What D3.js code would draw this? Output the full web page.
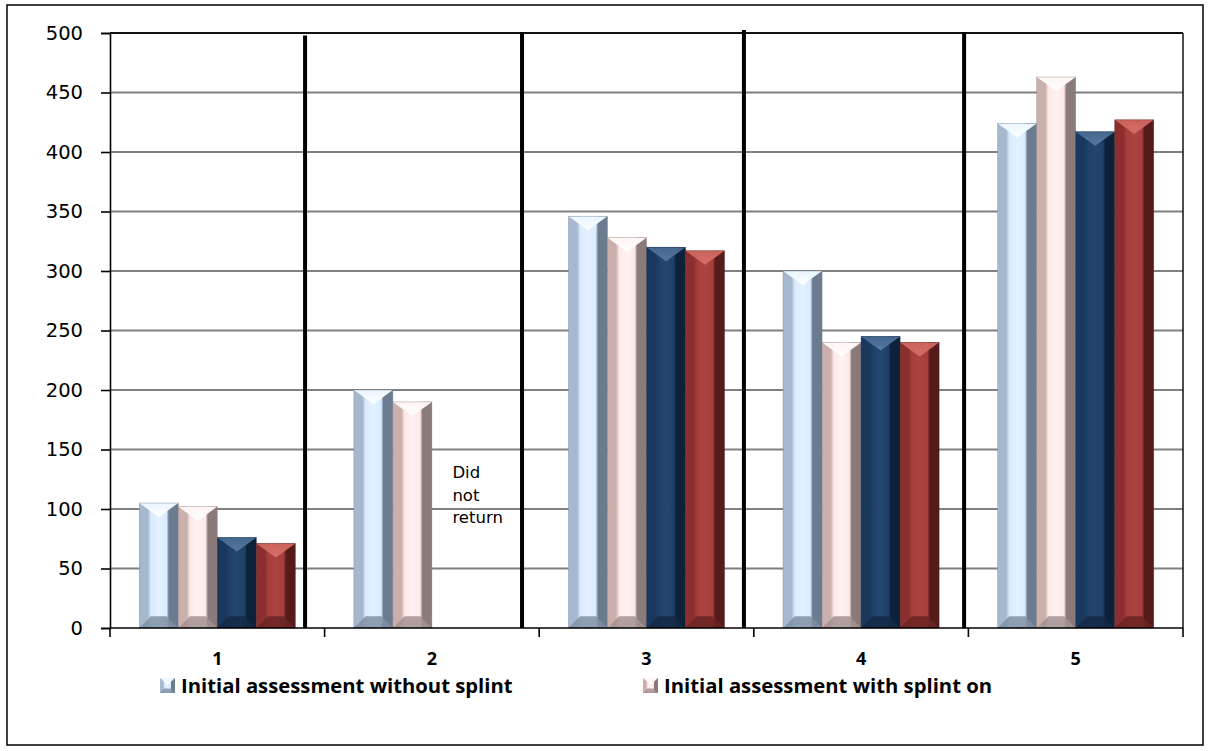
<!DOCTYPE html>
<html>
<head>
<meta charset="utf-8">
<script src="https://cdn.jsdelivr.net/npm/d3@7"></script>
<style>
  html, body { margin: 0; padding: 0; background: #ffffff; }
  svg { display: block; }
</style>
</head>
<body>
<svg id="chart" width="1210" height="751"></svg>
<script>
// ---- data ----
const categories = ["1", "2", "3", "4", "5"];
const seriesNames = [
  "Initial assessment without splint",
  "Initial assessment with splint on",
  "Follow-up assessment without splint",
  "Follow-up assessment with splint on"
];
const withoutSplintInitial = [105, 200, 346, 300, 424];
const withSplintInitial    = [102, 190, 328, 240, 463];
const withoutSplintFollow  = [76, null, 320, 245, 417];
const withSplintFollow     = [71, null, 317, 240, 427];
const seriesValues = [withoutSplintInitial, withSplintInitial, withoutSplintFollow, withSplintFollow];
const legendLabels = ["Initial assessment without splint", "Initial assessment with splint on"];
const yTicks = [0, 50, 100, 150, 200, 250, 300, 350, 400, 450, 500];
// hand-drawn divider lines, in category units along the x axis, with top value
const dividers = [
  { at: 0.909, top: 498 },
  { at: 1.920, top: 500.8 },
  { at: 2.954, top: 502.5 },
  { at: 3.980, top: 500.8 }
];
const note = { category: "2", series: 2, value: 126, lines: ["Did", "not", "return"] };

// ---- colours (left edge, centre, right edge, top bevel, bottom bevel) ----
const palette = [
  { left: "#a6b8ce", mid: "#d9ebff", hi: "#e4f1ff", right: "#6c7c90", top: "#e9f5ff", topIn: "#ffffff", bottom: "#7f90a5" },
  { left: "#c9b0ad", mid: "#fde8e7", hi: "#fff2f1", right: "#8a7a79", top: "#fff4f3", topIn: "#ffffff", bottom: "#a49190" },
  { left: "#1a375d", mid: "#1f3f68", hi: "#23466f", right: "#0d213b", top: "#44668f", topIn: "#5577a0", bottom: "#142a47" },
  { left: "#8a2f2d", mid: "#a63f3c", hi: "#ab4441", right: "#551b1a", top: "#cb615b", topIn: "#d66e68", bottom: "#6a2523" }
];

// ---- layout ----
const svg = d3.select("#chart");
const margin = { left: 110, right: 1183, top: 33, bottom: 628 };

const x0 = d3.scaleBand().domain(categories).range([margin.left, margin.right]).padding(0);
const x1 = d3.scaleBand().domain(d3.range(seriesNames.length))
  .range([0, x0.bandwidth()]).paddingInner(0).paddingOuter(0.75);
const xCat = d3.scaleLinear().domain([0, categories.length]).range([margin.left, margin.right]);
const y = d3.scaleLinear().domain([0, 500]).range([margin.bottom, margin.top]);

// gradients
const defs = svg.append("defs");
palette.forEach((p, i) => {
  const g = defs.append("linearGradient").attr("id", "body" + i)
    .attr("x1", 0).attr("x2", 1).attr("y1", 0).attr("y2", 0);
  [[0, p.left], [0.22, p.left], [0.3, p.mid], [0.5, p.hi], [0.7, p.mid], [0.76, p.right], [1, p.right]]
    .forEach(([o, c]) => g.append("stop").attr("offset", o).attr("stop-color", c));
  const t = defs.append("linearGradient").attr("id", "top" + i)
    .attr("x1", 0).attr("x2", 0).attr("y1", 0).attr("y2", 1);
  t.append("stop").attr("offset", 0).attr("stop-color", p.top);
  t.append("stop").attr("offset", 1).attr("stop-color", p.topIn);
});

// outer frame
svg.append("rect").attr("x", 7).attr("y", 5).attr("width", 1196).attr("height", 740)
  .attr("fill", "none").attr("stroke", "#000").attr("stroke-width", 1.5);

// gridlines
svg.append("g").selectAll("line").data(yTicks.filter(v => v > 0 && v < 500)).join("line")
  .attr("x1", margin.left).attr("x2", margin.right)
  .attr("y1", d => y(d)).attr("y2", d => y(d))
  .attr("stroke", "#808080").attr("stroke-width", 1.8);

// plot frame top and right
svg.append("line").attr("x1", margin.left).attr("x2", margin.right)
  .attr("y1", y(500)).attr("y2", y(500)).attr("stroke", "#111").attr("stroke-width", 1.8);
svg.append("line").attr("x1", margin.right).attr("x2", margin.right)
  .attr("y1", y(500)).attr("y2", y(0)).attr("stroke", "#111").attr("stroke-width", 1.5);

// y axis
const yAxis = svg.append("g").attr("transform", `translate(${margin.left},0)`)
  .call(d3.axisLeft(y).tickValues(yTicks).tickSize(9).tickPadding(18));
yAxis.select(".domain").attr("stroke", "#000").attr("stroke-width", 1.6);
yAxis.selectAll(".tick line").attr("stroke", "#000").attr("stroke-width", 1.6);
yAxis.selectAll(".tick text").attr("font-family", "DejaVu Sans").attr("font-size", 19.5)
  .attr("fill", "#000");

// bars
const barG = svg.append("g");
categories.forEach((cat, ci) => {
  seriesValues.forEach((vals, si) => {
    const v = vals[ci];
    if (v == null) return;
    const p = palette[si];
    const bx = x0(cat) + x1(si);
    const bw = x1.bandwidth();
    const by = y(v);
    const bh = y(0) - by;
    const g = barG.append("g");
    g.append("rect").attr("x", bx).attr("y", by).attr("width", bw).attr("height", bh)
      .attr("fill", `url(#body${si})`);
    const dTop = Math.min(bw * 0.36, bh / 2);
    g.append("path")
      .attr("d", `M${bx},${by}L${bx + bw},${by}L${bx + bw / 2},${by + dTop}Z`)
      .attr("fill", `url(#top${si})`);
    const dB = Math.min(bw * 0.3, bh / 2);
    g.append("path")
      .attr("d", `M${bx},${by + bh}L${bx + dB},${by + bh - dB}L${bx + bw - dB},${by + bh - dB}L${bx + bw},${by + bh}Z`)
      .attr("fill", p.bottom).attr("opacity", 0.85);
    g.append("rect").attr("x", bx).attr("y", by).attr("width", bw).attr("height", bh)
      .attr("fill", "none").attr("stroke", p.right).attr("stroke-width", 0.6).attr("opacity", 0.6);
  });
});

// x axis
svg.append("line").attr("x1", margin.left).attr("x2", margin.right)
  .attr("y1", y(0)).attr("y2", y(0)).attr("stroke", "#000").attr("stroke-width", 1.6);
const bounds = categories.map(c => x0(c)).concat([x0(categories[categories.length - 1]) + x0.bandwidth()]);
svg.append("g").selectAll("line").data(bounds).join("line")
  .attr("x1", d => d).attr("x2", d => d)
  .attr("y1", y(0)).attr("y2", y(0) + 9)
  .attr("stroke", "#000").attr("stroke-width", 1.6);
svg.append("g").selectAll("text").data(categories).join("text")
  .attr("x", d => x0(d) + x0.bandwidth() / 2).attr("y", 665)
  .attr("text-anchor", "middle").attr("font-family", "Open Sans").attr("font-weight", "bold")
  .attr("font-size", 18).attr("fill", "#000").text(d => d);

// divider lines
svg.append("g").selectAll("line").data(dividers).join("line")
  .attr("x1", d => xCat(d.at)).attr("x2", d => xCat(d.at))
  .attr("y1", d => y(d.top)).attr("y2", y(0))
  .attr("stroke", "#000").attr("stroke-width", 4);

// note
const nx = x0(note.category) + x1(note.series) + x1.bandwidth() / 2 + 1;
svg.append("text").attr("x", nx).attr("y", y(note.value))
  .attr("font-family", "DejaVu Sans").attr("font-size", 16.5).attr("fill", "#000")
  .selectAll("tspan").data(note.lines).join("tspan")
  .attr("x", nx).attr("dy", (d, i) => i === 0 ? 0 : "1.36em").text(d => d);

// legend
const legendX = [160, 643];
const legendTextWidth = 332;
const legendTexts = [];
legendLabels.forEach((label, i) => {
  const lx = legendX[i];
  const p = palette[i];
  const s = 15;
  const ly = 678;
  const g = svg.append("g");
  g.append("rect").attr("x", lx).attr("y", ly).attr("width", s).attr("height", s)
    .attr("fill", `url(#body${i})`);
  g.append("path").attr("d", `M${lx},${ly}L${lx + s},${ly}L${lx + s / 2},${ly + s * 0.45}Z`)
    .attr("fill", `url(#top${i})`);
  g.append("path").attr("d", `M${lx},${ly + s}L${lx + s * 0.3},${ly + s * 0.7}L${lx + s * 0.7},${ly + s * 0.7}L${lx + s},${ly + s}Z`)
    .attr("fill", p.bottom).attr("opacity", 0.85);
  legendTexts.push(g.append("text").attr("x", lx + s + 6).attr("y", ly + s - 0.5)
    .attr("font-family", "Open Sans").attr("font-weight", "bold").attr("font-size", 18)
    .attr("fill", "#000").text(label));
});
// size the legend font so the first entry spans its allotted width
const w0 = legendTexts[0].node().getComputedTextLength();
const fs = Math.max(14, Math.min(22, 18 * legendTextWidth / w0));
legendTexts.forEach(t => t.attr("font-size", fs));
</script>
</body>
</html>
